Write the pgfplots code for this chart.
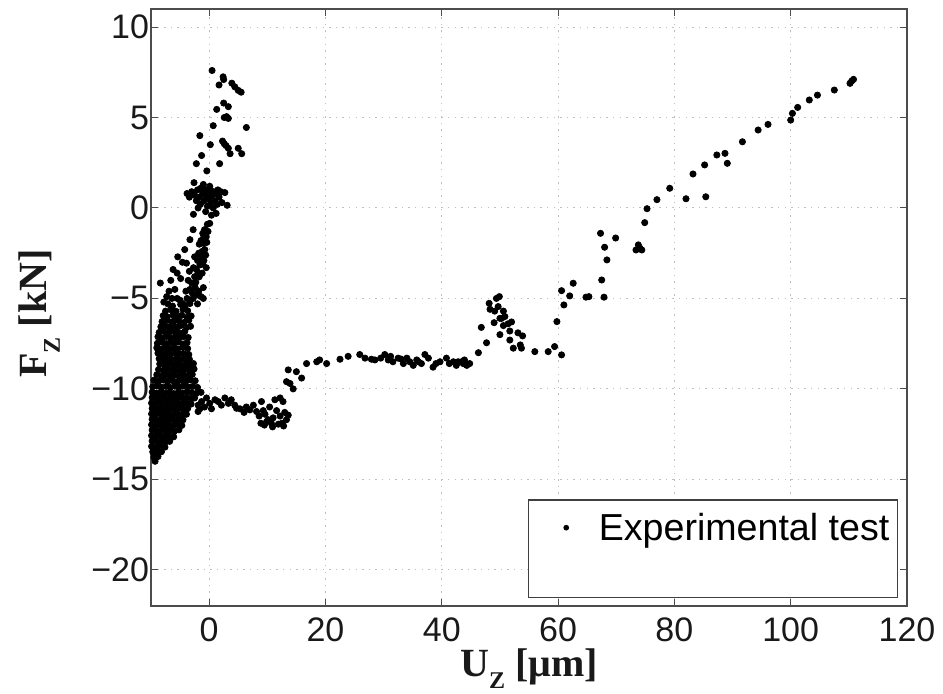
\documentclass[border=0pt]{standalone}
\usepackage{pgfplots}
\pgfplotsset{compat=1.18}
\usepackage{pgfplotstable}
\usepackage{fontspec}
\setmainfont{Liberation Sans}
\newfontfamily\labelfont{Liberation Serif}
\usepackage{graphicx}

% Axial force versus axial displacement, measured points
\pgfplotstableread{
x y
0.5 7.6
2.4 7.25
2.5 7.1
1.7 6.8
3.9 6.9
4.4 6.7
5.0 6.5
5.5 6.4
2.5 5.8
3.3 5.6
1.3 5.45
2.6 5.0
3.0 5.05
3.3 4.95
0.7 4.55
6.4 4.45
-1.6 4.0
0.2 3.5
2.3 3.7
2.6 3.55
2.9 3.45
3.3 3.3
3.6 3.0
5.0 3.3
5.6 3.0
-1.3 2.9
1.8 2.45
-2.2 2.45
-0.4 2.05
-3.8 0.8
-3.4 0.6
-3.0 0.9
-2.6 1.4
-2.5 0.7
-2.2 0.4
-2.0 1.0
-1.7 0.6
-1.5 0.2
-1.4 1.1
-1.1 0.8
-0.9 0.4
-0.7 1.0
-0.5 0.6
-0.3 0.1
-0.2 0.9
0.0 0.5
0.2 1.0
0.3 0.3
0.5 0.7
0.7 0.0
0.8 0.9
1.0 0.4
1.2 0.8
1.4 0.2
1.5 1.0
1.7 0.6
2.0 0.9
2.2 0.3
2.7 0.85
3.1 0.15
-0.6 -0.2
0.4 -0.4
-2.7 -0.35
1.2 -0.3
-1.9 0.0
0.1 1.2
-1.0 1.3
0.1 -0.85
-0.2 -1.3
-0.5 -1.6
-1.0 -1.95
-0.75 -2.3
-1.3 -2.7
-1.6 -3.15
-2.2 -3.4
-0.9 -1.6
-1.2 -2.4
-1.5 -3.0
-1.9 -3.6
-2.3 -4.1
-2.0 -2.9
-1.7 -2.0
-1.0 -4.4
-1.4 -4.9
-2.0 -5.3
-1.8 -4.6
-2.4 -4.4
-1.2 -3.6
-0.9 -2.9
-0.6 -2.6
-0.3 -0.9
-0.8 -1.2
-1.1 -1.4
-0.4 -1.9
-1.4 -1.8
-1.8 -2.5
-1.1 -3.1
-2.5 -2.7
-1.7 -3.8
-2.7 -3.3
-2.1 -4.8
-2.9 -4.7
-3.6 -4.0
-3.4 -3.5
-4.6 -3.0
-4.9 -3.9
-5.5 -3.6
-6.6 -4.0
-6.9 -4.6
-4.0 -4.6
-3.8 -5.0
-5.5 -5.0
-6.4 -5.0
-7.8 -5.2
-0.5 -3.3
-1.0 -5.0
-2.75 -1.2
-3.3 -1.75
-4.2 -2.3
-5.4 -2.7
-6.2 -3.4
-3.9 -3.05
-2.5 -3.8
-3.0 -4.15
-3.3 -4.5
-2.75 -5.0
-8.4 -4.15
-7.3 -4.9
-5.9 -4.5
-5.0 -5.1
-4.5 -5.3
-7.1 -5.30
-6.3 -5.42
-4.9 -5.33
-4.1 -5.38
-3.3 -5.28
-7.5 -5.70
-6.6 -5.62
-5.7 -5.71
-4.5 -5.60
-3.7 -5.68
-7.9 -5.95
-7.2 -6.02
-6.2 -5.91
-5.5 -5.99
-4.7 -5.93
-3.8 -6.04
-3.1 -5.97
-8.1 -6.28
-7.4 -6.21
-6.5 -6.30
-5.9 -6.22
-5.1 -6.27
-4.3 -6.33
-3.5 -6.20
-8.3 -6.57
-7.6 -6.50
-6.9 -6.60
-6.1 -6.52
-5.4 -6.58
-4.8 -6.49
-3.9 -6.61
-3.2 -6.54
-8.6 -6.88
-7.8 -6.82
-7.0 -6.90
-6.4 -6.81
-5.7 -6.87
-5.0 -6.92
-4.2 -6.83
-8.8 -7.12
-8.0 -7.19
-7.3 -7.10
-6.6 -7.17
-5.8 -7.13
-5.2 -7.20
-4.4 -7.11
-3.6 -7.16
-8.9 -7.48
-8.2 -7.41
-7.4 -7.50
-6.7 -7.43
-6.0 -7.47
-5.3 -7.40
-4.5 -7.52
-3.8 -7.44
-9.0 -7.73
-8.3 -7.80
-7.6 -7.71
-6.9 -7.78
-6.1 -7.74
-5.4 -7.79
-4.6 -7.70
-3.7 -7.77
-8.8 -8.02
-8.1 -8.09
-7.4 -8.03
-6.7 -8.08
-5.9 -8.01
-5.2 -8.07
-4.4 -8.05
-3.5 -8.10
-8.6 -8.33
-7.9 -8.38
-7.2 -8.31
-6.5 -8.37
-5.7 -8.34
-5.0 -8.40
-4.3 -8.32
-3.4 -8.36
-8.5 -8.62
-7.7 -8.68
-7.0 -8.61
-6.2 -8.67
-5.5 -8.64
-4.8 -8.70
-4.0 -8.62
-3.3 -8.66
-2.7 -8.60
-8.7 -8.93
-7.9 -8.98
-7.1 -8.91
-6.4 -8.97
-5.6 -8.94
-4.9 -9.00
-4.1 -8.92
-3.4 -8.96
-2.6 -8.90
-9.0 -9.22
-8.2 -9.28
-7.4 -9.21
-6.7 -9.27
-5.9 -9.24
-5.1 -9.30
-4.4 -9.22
-3.6 -9.26
-2.9 -9.20
-9.5 -9.52
-8.7 -9.58
-7.9 -9.51
-7.1 -9.57
-6.3 -9.54
-5.5 -9.60
-4.8 -9.52
-4.0 -9.56
-3.2 -9.50
-2.4 -9.55
-9.7 -9.88
-9.0 -9.84
-8.2 -9.91
-7.4 -9.86
-6.7 -9.92
-5.9 -9.85
-5.2 -9.90
-4.4 -9.83
-3.6 -9.89
-2.8 -9.86
-2.0 -9.92
-9.8 -10.18
-9.1 -10.24
-8.3 -10.17
-7.6 -10.23
-6.8 -10.20
-6.1 -10.26
-5.3 -10.18
-4.6 -10.22
-3.8 -10.16
-3.0 -10.21
-2.2 -10.25
-1.4 -10.19
-9.8 -10.48
-9.0 -10.55
-8.3 -10.47
-7.5 -10.53
-6.8 -10.50
-6.0 -10.56
-5.3 -10.46
-4.5 -10.52
-3.8 -10.49
-3.0 -10.54
-9.9 -10.78
-9.1 -10.83
-8.4 -10.76
-7.6 -10.82
-6.9 -10.79
-6.1 -10.85
-5.4 -10.77
-4.6 -10.81
-3.8 -10.80
-3.1 -10.84
-9.8 -11.08
-9.0 -11.14
-8.3 -11.07
-7.5 -11.12
-6.8 -11.10
-6.0 -11.15
-5.2 -11.06
-4.5 -11.11
-3.7 -11.09
-9.9 -11.38
-9.2 -11.43
-8.4 -11.36
-7.7 -11.42
-6.9 -11.39
-6.2 -11.45
-5.4 -11.37
-4.6 -11.41
-3.9 -11.40
-9.8 -11.68
-9.1 -11.74
-8.3 -11.67
-7.6 -11.72
-6.8 -11.70
-6.0 -11.75
-5.3 -11.66
-4.5 -11.71
-9.9 -11.98
-9.2 -12.04
-8.4 -11.97
-7.7 -12.03
-6.9 -12.00
-6.2 -12.05
-5.4 -11.96
-4.7 -12.02
-9.8 -12.28
-9.0 -12.34
-8.3 -12.27
-7.5 -12.33
-6.8 -12.30
-6.0 -12.35
-5.2 -12.26
-9.9 -12.58
-9.2 -12.64
-8.4 -12.57
-7.6 -12.63
-6.9 -12.60
-6.1 -12.65
-9.8 -12.88
-9.0 -12.94
-8.3 -12.87
-7.5 -12.93
-6.8 -12.90
-9.9 -13.18
-9.1 -13.24
-8.4 -13.17
-7.6 -13.22
-9.7 -13.48
-9.0 -13.54
-8.2 -13.47
-9.5 -13.78
-8.8 -13.74
-9.3 -14.0
-2.5 -10.5
-1.9 -10.9
-1.3 -10.7
-0.8 -11.0
-0.45 -10.5
0.1 -10.8
0.4 -11.1
1.0 -10.6
1.55 -10.7
2.1 -10.9
2.7 -10.5
3.3 -10.8
3.8 -10.6
4.4 -10.9
4.7 -11.07
5.3 -11.1
6.0 -11.3
-1.6 -11.1
-1.9 -11.25
6.4 -11.0
7.0 -11.16
7.6 -10.9
8.15 -11.25
8.6 -11.5
9.0 -10.7
9.3 -11.2
9.6 -11.4
9.9 -11.8
10.15 -11.7
10.4 -11.0
10.7 -11.9
11.0 -11.6
11.3 -10.6
11.6 -11.2
11.9 -11.95
12.2 -10.5
12.2 -11.5
12.5 -11.9
12.7 -10.7
13.0 -11.3
13.3 -11.7
13.6 -11.45
10.9 -12.1
9.5 -12.0
12.8 -12.05
8.9 -11.9
13.3 -9.6
13.6 -8.95
14.45 -10.0
15.0 -9.05
15.9 -9.4
16.75 -8.6
13.9 -9.7
18.5 -8.5
19.0 -8.4
20.2 -8.6
22.5 -8.36
23.9 -8.2
25.9 -8.1
26.8 -8.3
27.9 -8.36
28.5 -8.4
29.5 -8.3
30.2 -8.1
30.8 -8.4
31.2 -8.2
31.6 -8.5
32.5 -8.3
33.0 -8.35
33.4 -8.6
34.0 -8.3
34.5 -8.5
35.1 -8.7
35.7 -8.4
36.0 -8.5
36.5 -8.6
37.1 -8.1
37.7 -8.3
38.5 -8.8
39.0 -8.6
39.7 -8.5
40.8 -8.3
41.3 -8.6
42.0 -8.5
42.5 -8.7
42.8 -8.5
43.4 -8.5
43.7 -8.6
43.9 -8.4
44.3 -8.7
44.8 -8.6
46.3 -8.0
47.7 -7.45
46.8 -6.6
48.15 -5.27
49.4 -5.0
49.9 -4.9
48.3 -5.6
49.7 -5.45
50.6 -5.7
50.85 -6.0
50.3 -6.1
51.4 -6.4
52.0 -6.3
50.0 -7.0
51.7 -6.8
53.1 -6.9
53.9 -7.07
51.7 -7.3
52.3 -7.75
53.5 -7.57
53.7 -7.75
49.0 -6.34
50.6 -6.5
50.0 -6.1
49.1 -5.7
56.0 -7.94
58.3 -7.94
59.4 -7.66
60.6 -8.12
59.8 -6.28
61.0 -5.36
60.6 -4.57
62.6 -4.16
62.0 -4.86
64.8 -4.93
65.3 -4.9
67.5 -3.98
67.9 -4.93
68.4 -2.87
68.0 -2.17
67.3 -1.4
69.9 -1.66
73.4 -2.32
73.8 -2.04
74.4 -2.32
74.1 -2.23
74.9 -0.81
75.3 -0.04
77.0 0.46
79.2 1.09
82.0 0.51
83.2 1.88
85.2 2.38
85.4 0.62
87.3 2.93
88.7 3.02
89.1 2.47
91.7 3.66
94.4 4.31
96.1 4.62
100.0 4.86
100.3 5.23
101.2 5.56
103.2 5.97
104.6 6.24
107.5 6.52
110.2 6.89
110.5 7.02
110.8 7.11
}\testdata

\begin{document}
\begin{tikzpicture}
\path[use as bounding box] (-75.5pt,-44pt) rectangle (396pt,303pt);
\begin{axis}[
  scale only axis,
  width=378pt, height=298.5pt,
  xmin=-10, xmax=120, ymin=-22, ymax=11,
  xtick={0,20,...,120},
  ytick={-20,-15,...,10},
  yticklabels={−20,−15,−10,−5,0,5,10},
  grid=major,
  major grid style={gray!50, line width=0.5pt, dash pattern=on 0.7pt off 2.6pt},
  tick align=inside,
  major tick length=3.3pt,
  axis line style={black!70, line width=0.55pt},
  every tick/.style={black!70, line width=0.5pt},
  /pgf/number format/assume math mode=true,
  tick label style={font=\fontsize{17}{20}\selectfont, text=black!90},
  xticklabel style={yshift=-2.5pt},
  yticklabel style={xshift=2.5pt},
  xlabel={\labelfont\bfseries U\raisebox{-6pt}{\scalebox{0.6}{Z}} [μm]},
  ylabel={\labelfont\bfseries F\raisebox{-6.5pt}{\scalebox{0.6}{Z}} [kN]},
  label style={font=\fontsize{20}{24}\selectfont, text=black!90},
  xlabel style={at={(axis description cs:0.5,-0.1139)}, anchor=base, yshift=-1.5pt},
  ylabel style={at={(axis description cs:-0.1376,0.49)}, anchor=base},
  legend cell align=left,
  legend style={
    at={(rel axis cs:0.988,0.0134)}, anchor=south east,
    draw=black!75, line width=0.6pt,
    inner xsep=4pt, inner ysep=0pt,
    font=\fontsize{18.8}{22}\selectfont,
    nodes={inner ysep=6.5pt, inner xsep=0pt, text height=13.6pt, text depth=22.1pt},
  },
]
\addplot[only marks, mark=*, mark size=1.55pt, black,
  legend image code/.code={\path (0pt,0pt) (30.5pt,0pt); \fill[black] (14.5pt,10.5pt) circle (1.1pt);}]
  table {\testdata};
\addlegendentry{Experimental test}
\end{axis}
\end{tikzpicture}
\end{document}
